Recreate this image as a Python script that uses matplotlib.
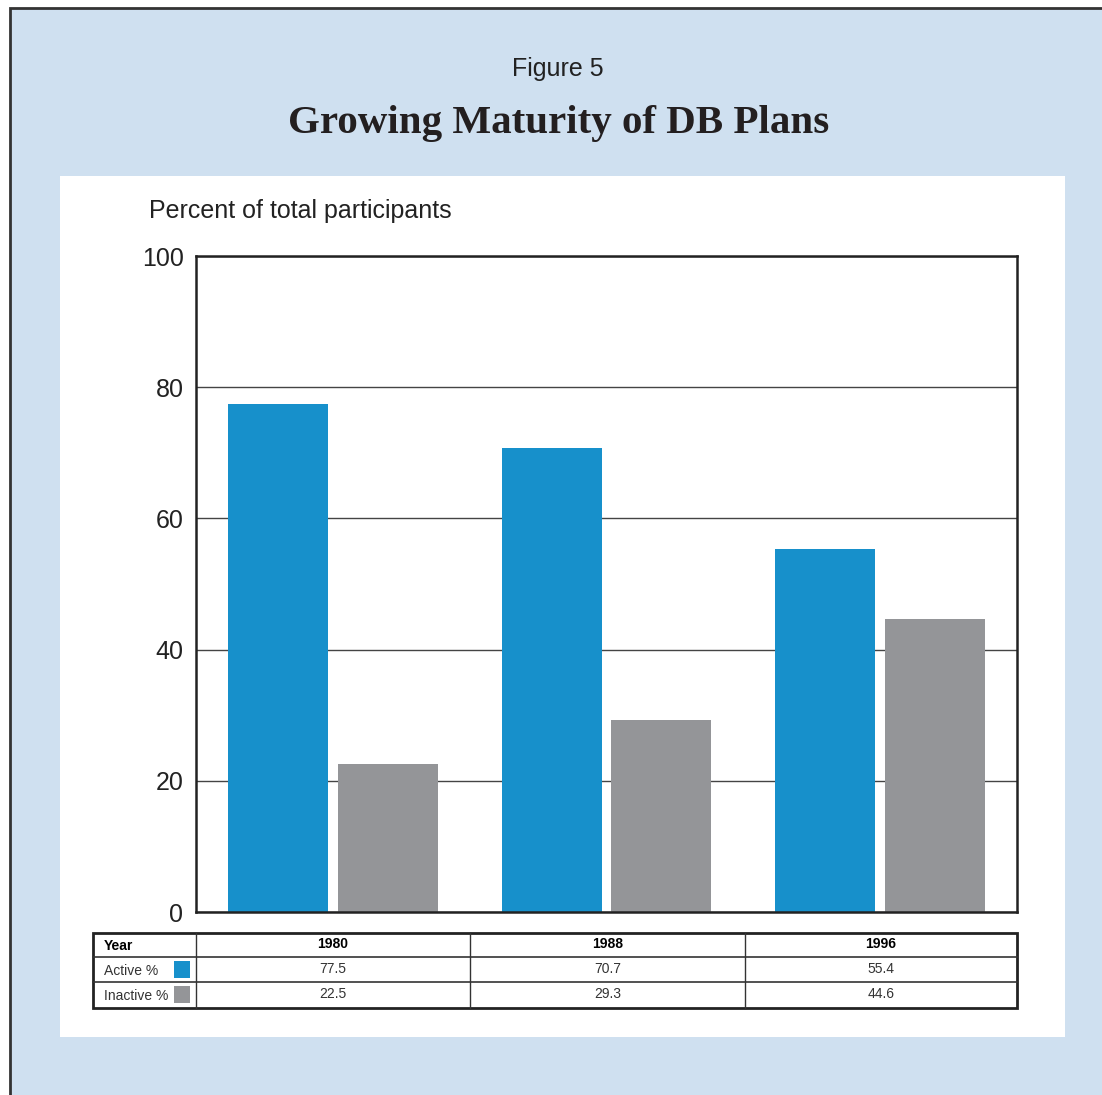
import numpy as np
import matplotlib
matplotlib.use('Agg')
import matplotlib.pyplot as plt
from matplotlib.patches import Rectangle
from matplotlib.lines import Line2D

plt.rcParams['font.family'] = ['Liberation Sans', 'DejaVu Sans']

years = ['1980', '1988', '1996']
active = [77.5, 70.7, 55.4]
inactive = [22.5, 29.3, 44.6]
yticks = [0, 20, 40, 60, 80, 100]

blue = '#1790cb'
grey = '#949598'
bg = '#cfe0f0'

W, H = 1102, 1095
fig = plt.figure(figsize=(W / 100, H / 100), dpi=100)
fig.patch.set_facecolor('white')

def fx(x):
    return x / W

def fy(y):
    return 1 - y / H

def rect(x0, y0, x1, y1, **kw):
    r = Rectangle((fx(x0), fy(y1)), fx(x1) - fx(x0), fy(y0) - fy(y1),
                  transform=fig.transFigure, **kw)
    fig.add_artist(r)

def line(x0, y0, x1, y1, **kw):
    fig.add_artist(Line2D([fx(x0), fx(x1)], [fy(y0), fy(y1)],
                          transform=fig.transFigure, **kw))

# background panels (behind the axes)
rect(10, 8, W + 5, H + 5, facecolor=bg, edgecolor='#333333', linewidth=2, zorder=-10)
rect(60, 176, 1065, 1037, facecolor='white', edgecolor='none', zorder=-9)

fig.text(fx(558), fy(69), 'Figure 5', ha='center', va='center', fontsize=18, color='#222222')
fig.text(fx(559), fy(124), 'Growing Maturity of DB Plans', ha='center', va='center',
         fontsize=29.5, fontweight='bold', family=['Liberation Serif', 'DejaVu Serif'], color='#231f20')
fig.text(fx(149), fy(211), 'Percent of total participants', ha='left', va='center',
         fontsize=18, color='#222222')

# chart
ax = fig.add_axes([fx(196), fy(912), fx(1017) - fx(196), fy(256) - fy(912)])
ax.patch.set_facecolor('white')
x = np.arange(len(years))
ax.bar(x - 0.2, active, width=0.365, color=blue, zorder=3)
ax.bar(x + 0.2, inactive, width=0.365, color=grey, zorder=3)
ax.set_xlim(-0.5, 2.5)
ax.set_ylim(0, 100)
ax.set_yticks(yticks)
ax.set_xticks([])
ax.tick_params(axis='y', length=0, pad=9, labelsize=18, labelcolor='#222222')
ax.grid(axis='y', color='#444444', linewidth=1, zorder=1)
ax.set_axisbelow(True)
for s in ax.spines.values():
    s.set_linewidth(1.8)
    s.set_color('#222222')
    s.set_zorder(5)

# table below the chart
tx = [93, 196, 470, 745, 1017]
ty = [933, 957, 982, 1008]
for yy in ty[1:-1]:
    line(93, yy, 1017, yy, color='#333333', linewidth=1.2)
for xx in tx[1:-1]:
    line(xx, 933, xx, 1008, color='#333333', linewidth=1)
rect(93, 933, 1017, 1008, facecolor='none', edgecolor='#222222', linewidth=2)

fig.text(fx(104), fy(946), 'Year', ha='left', va='center', fontsize=10, fontweight='bold')
fig.text(fx(104), fy(971), 'Active %', ha='left', va='center', fontsize=10, color='#333333')
fig.text(fx(104), fy(996), 'Inactive %', ha='left', va='center', fontsize=10, color='#333333')
rect(174, 961, 190, 978, facecolor=blue, edgecolor='none')
rect(174, 986, 190, 1003, facecolor=grey, edgecolor='none')
for i, yr in enumerate(years):
    cx = (tx[i + 1] + tx[i + 2]) / 2
    fig.text(fx(cx), fy(944), yr, ha='center', va='center', fontsize=10, fontweight='bold')
    fig.text(fx(cx), fy(969), f'{active[i]:.1f}', ha='center', va='center', fontsize=10, color='#333333')
    fig.text(fx(cx), fy(994), f'{inactive[i]:.1f}', ha='center', va='center', fontsize=10, color='#333333')

fig.savefig('out.png', dpi=100, facecolor=fig.get_facecolor())
